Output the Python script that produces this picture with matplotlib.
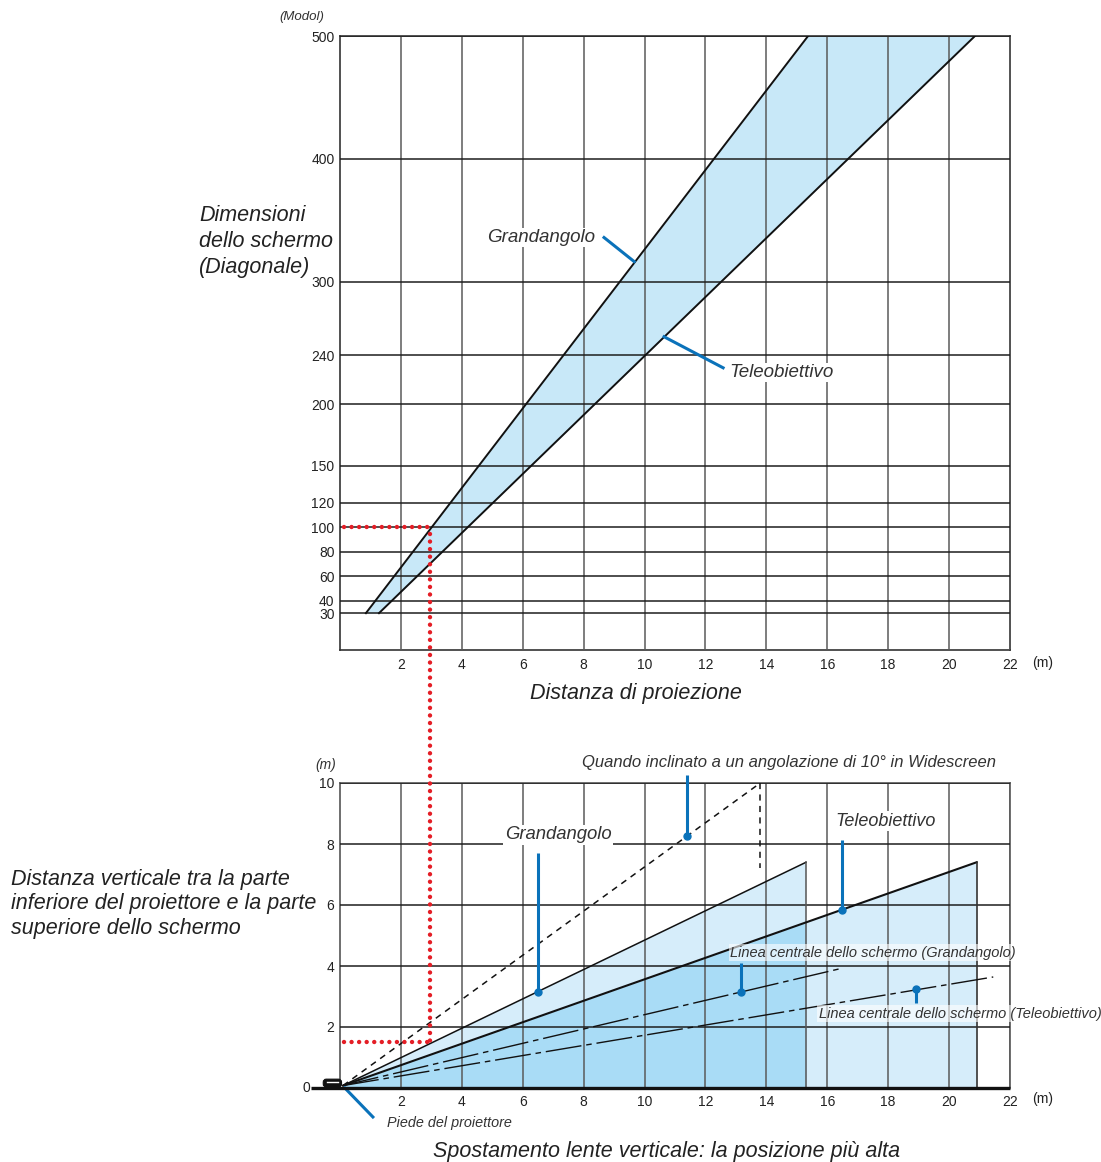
import numpy as np
import matplotlib
matplotlib.use("Agg")
import matplotlib.pyplot as plt
from matplotlib.lines import Line2D
from matplotlib.patches import Polygon, FancyBboxPatch

plt.rcParams['font.family'] = ['Liberation Sans', 'DejaVu Sans']

# ---------------- data ----------------
# top chart: screen diagonal (inch) vs throw distance (m)
screen_sizes = [30, 500]
wide_dist = [0.85, 15.37]
tele_dist = [1.28, 20.85]
size_ticks = [30, 40, 60, 80, 100, 120, 150, 200, 240, 300, 400, 500]
dist_ticks = [2, 4, 6, 8, 10, 12, 14, 16, 18, 20, 22]
example_size = 100
example_dist = 2.96

# bottom chart: vertical distance (m) vs distance (m)
ray_origin = (0.1, 0.08)
wide_top_end = (15.3, 7.4)
tele_top_end = (20.9, 7.4)
tilt_end = (13.8, 10.0)
tilt_drop = 7.2
wide_center_end = (16.5, 3.93)
tele_center_end = (21.45, 3.64)
height_ticks = [2, 4, 6, 8, 10]
example_height = 1.5

W, H = 1101, 1162
fig = plt.figure(figsize=(W / 100, H / 100), dpi=100)

TXT = '#222222'
BLUE = '#0a72ba'
RED = '#e41e26'
FILL_TOP = '#c8e8f8'
LIGHT = '#d6edfa'
DARK = '#a9dcf6'
TICKSIZE = 10


def fx(px):
    return px / W


def fy(py):
    return 1 - py / H


# ---------------- top chart ----------------
ax1 = fig.add_axes([fx(340), fy(650), 670 / W, 614 / H])
ax1.set_xlim(0, 22)
ax1.set_ylim(0, 500)
ax1.fill_betweenx(screen_sizes, wide_dist, tele_dist, color=FILL_TOP, lw=0, zorder=1)
ax1.plot(wide_dist, screen_sizes, color='#111111', lw=1.4, zorder=3)
ax1.plot(tele_dist, screen_sizes, color='#111111', lw=1.4, zorder=3)
ax1.set_axisbelow(False)
ax1.set_xticks(dist_ticks)
ax1.set_yticks(size_ticks)
ax1.set_xticklabels([str(v) for v in dist_ticks])
ax1.set_yticklabels([str(v) for v in size_ticks])
ax1.tick_params(length=0, labelsize=TICKSIZE, labelcolor=TXT)
ax1.tick_params(axis='x', pad=6)
ax1.tick_params(axis='y', pad=4)
ax1.xaxis.grid(True, color='#5a5a5a', lw=1.1, zorder=2)
ax1.yaxis.grid(True, color='#1e1e1e', lw=1.1, zorder=2)
for s in ax1.spines.values():
    s.set_color('#333333')
    s.set_linewidth(1.2)

# red example lines (top)
dots = dict(color=RED, lw=3.2, linestyle=(0, (0.001, 1.7)), dash_capstyle='round')
ax1.plot([0.12, example_dist], [example_size, example_size], zorder=4, **dots)

# callouts (top)
ax1.add_line(Line2D([8.67, 9.66], [335.9, 316.3], color=BLUE, lw=2.2, zorder=4))
ax1.add_line(Line2D([10.64, 12.58], [255.1, 229.8], color=BLUE, lw=2.2, zorder=4))
ax1.text(6.6, 336, 'Grandangolo', fontsize=13.5, style='italic', color='#333333',
         ha='center', va='center', zorder=5,
         bbox=dict(facecolor='white', edgecolor='none', pad=1))
ax1.text(14.5, 226, 'Teleobiettivo', fontsize=13.5, style='italic', color='#333333',
         ha='center', va='center', zorder=5,
         bbox=dict(facecolor='white', edgecolor='none', pad=1))

fig.text(fx(302), fy(17), '(Modol)', fontsize=9.5, style='italic', color='#333333',
         ha='center', va='center')
fig.text(fx(1043), fy(663), '(m)', fontsize=TICKSIZE, color=TXT, ha='center', va='center')
fig.text(fx(199), fy(241.5), 'Dimensioni\ndello schermo\n(Diagonale)', fontsize=15.5,
         style='italic', color=TXT, ha='left', va='center', linespacing=1.3)
fig.text(fx(636), fy(693), 'Distanza di proiezione', fontsize=15.5, style='italic',
         color=TXT, ha='center', va='center')

# ---------------- bottom chart ----------------
ax2 = fig.add_axes([fx(340), fy(1088), 670 / W, 305 / H])
ax2.set_xlim(0, 22)
ax2.set_ylim(0, 10)
ox, oy = ray_origin

wide_poly = Polygon([ray_origin, wide_top_end, (wide_top_end[0], 0), (ox, 0)],
                    closed=True, facecolor=LIGHT, edgecolor='none', zorder=1)
tele_poly = Polygon([ray_origin, tele_top_end, (tele_top_end[0], 0), (ox, 0)],
                    closed=True, facecolor=LIGHT, edgecolor='none', zorder=1)
ax2.add_patch(wide_poly)
ax2.add_patch(tele_poly)
tele_at_wide = np.interp(wide_top_end[0], [ox, tele_top_end[0]], [oy, tele_top_end[1]])
ax2.fill_between([ox, wide_top_end[0]], [oy, tele_at_wide], [0, 0], color=DARK, lw=0, zorder=1.2)

ax2.set_axisbelow(False)
ax2.set_xticks(dist_ticks)
ax2.set_yticks(height_ticks)
ax2.set_xticklabels([str(v) for v in dist_ticks])
ax2.set_yticklabels([str(v) for v in height_ticks])
ax2.tick_params(length=0, labelsize=TICKSIZE, labelcolor=TXT)
ax2.tick_params(axis='x', pad=5)
ax2.tick_params(axis='y', pad=4)
ax2.xaxis.grid(True, color='#5a5a5a', lw=1.1, zorder=2)
ax2.yaxis.grid(True, color='#1e1e1e', lw=1.1, zorder=2)
for k, s in ax2.spines.items():
    s.set_color('#555555')
    s.set_linewidth(1.2)
ax2.spines['bottom'].set_visible(False)
ax2.plot([-0.95, 22], [0, 0], color='#111111', lw=2.4, clip_on=False, zorder=6,
         solid_capstyle='butt')

# edges of the regions
ax2.plot([ox, wide_top_end[0]], [oy, wide_top_end[1]], color='#111111', lw=1.1, zorder=3)
ax2.plot([wide_top_end[0]] * 2, [0, wide_top_end[1]], color='#555555', lw=1.1, zorder=3)
ax2.plot([ox, tele_top_end[0]], [oy, tele_top_end[1]], color='#111111', lw=1.5, zorder=3)
ax2.plot([tele_top_end[0]] * 2, [0, tele_top_end[1]], color='#333333', lw=1.2, zorder=3)

# tilt line (dashed)
ax2.plot([ox, tilt_end[0]], [oy, tilt_end[1]], color='#111111', lw=1.1,
         linestyle=(0, (4, 3.5)), zorder=3)
ax2.plot([tilt_end[0]] * 2, [tilt_end[1], tilt_drop], color='#111111', lw=1.1,
         linestyle=(0, (4, 3.5)), zorder=3)

# center lines (dash-dot)
dd = (0, (26, 3.5, 4, 3.5))
ax2.plot([ox, wide_center_end[0]], [oy, wide_center_end[1]], color='#111111', lw=1.0,
         linestyle=dd, zorder=3)
ax2.plot([ox, tele_center_end[0]], [oy, tele_center_end[1]], color='#111111', lw=1.0,
         linestyle=dd, zorder=3)

# red example lines (bottom)
ax2.plot([0.12, example_dist], [example_height, example_height], zorder=4, **dots)
fig.canvas.draw()
p_top = fig.transFigure.inverted().transform(ax1.transData.transform((example_dist, example_size)))
p_bot = fig.transFigure.inverted().transform(ax2.transData.transform((example_dist, example_height)))
fig.add_artist(Line2D([p_top[0], p_bot[0]], [p_top[1] - 0.006, p_bot[1]],
                      transform=fig.transFigure, zorder=10, **dots))

# projector icon
ax2.add_patch(FancyBboxPatch((-0.55, 0.03), 0.6, 0.26,
                             boxstyle='round,pad=0.0,rounding_size=0.1',
                             facecolor='#111111', edgecolor='#111111', lw=0.8,
                             clip_on=False, zorder=7))
ax2.plot([-0.42, -0.08], [0.19, 0.19], color='white', lw=1.0, clip_on=False, zorder=8)

# callouts (bottom)
def callout(x0, y0, x1, y1, dot=True):
    ax2.plot([x0, x1], [y0, y1], color=BLUE, lw=2.2, zorder=5, clip_on=False,
             solid_capstyle='butt')
    if dot:
        ax2.plot([x1], [y1], 'o', color=BLUE, ms=5, zorder=5, clip_on=False)

callout(6.5, 7.7, 6.5, 3.16)
callout(16.49, 8.13, 16.49, 5.85)
callout(11.4, 10.26, 11.4, 8.26)
callout(13.17, 4.1, 13.17, 3.16)
callout(18.92, 2.79, 18.92, 3.23)
ax2.plot([0.16, 1.08], [0.0, -0.95], color=BLUE, lw=2.2, zorder=5, clip_on=False)

lab = dict(style='italic', color='#333333', ha='center', va='center', zorder=6)
ax2.text(7.16, 8.3, 'Grandangolo', fontsize=13.3,
         bbox=dict(facecolor='white', edgecolor='none', pad=1), **lab)
ax2.text(17.93, 8.75, 'Teleobiettivo', fontsize=13,
         bbox=dict(facecolor='white', edgecolor='none', pad=1), **lab)
ax2.text(14.75, 10.66, 'Quando inclinato a un angolazione di 10° in Widescreen',
         fontsize=12, clip_on=False, **lab)
ax2.text(17.5, 4.43, 'Linea centrale dello schermo (Grandangolo)', fontsize=10.5,
         bbox=dict(facecolor='white', edgecolor='none', alpha=0.6, pad=1), **lab)
ax2.text(20.36, 2.43, 'Linea centrale dello schermo (Teleobiettivo)', fontsize=10.5,
         clip_on=False, bbox=dict(facecolor='white', edgecolor='none', alpha=0.6, pad=1), **lab)
ax2.text(3.58, -1.15, 'Piede del proiettore', fontsize=10.4, clip_on=False, **lab)
ax2.text(-1.1, 0, '0', fontsize=TICKSIZE, color=TXT, ha='center', va='center', clip_on=False)

fig.text(fx(326), fy(765), '(m)', fontsize=TICKSIZE, style='italic', color='#333333',
         ha='center', va='center')
fig.text(fx(1043), fy(1099), '(m)', fontsize=TICKSIZE, color=TXT, ha='center', va='center')
fig.text(fx(11), fy(904), 'Distanza verticale tra la parte\ninferiore del proiettore e la parte\nsuperiore dello schermo',
         fontsize=15.5, style='italic', color=TXT, ha='left', va='center', linespacing=1.22)
fig.text(fx(667), fy(1151), 'Spostamento lente verticale: la posizione più alta',
         fontsize=15.5, style='italic', color=TXT, ha='center', va='center')

fig.savefig('out.png', dpi=100)
